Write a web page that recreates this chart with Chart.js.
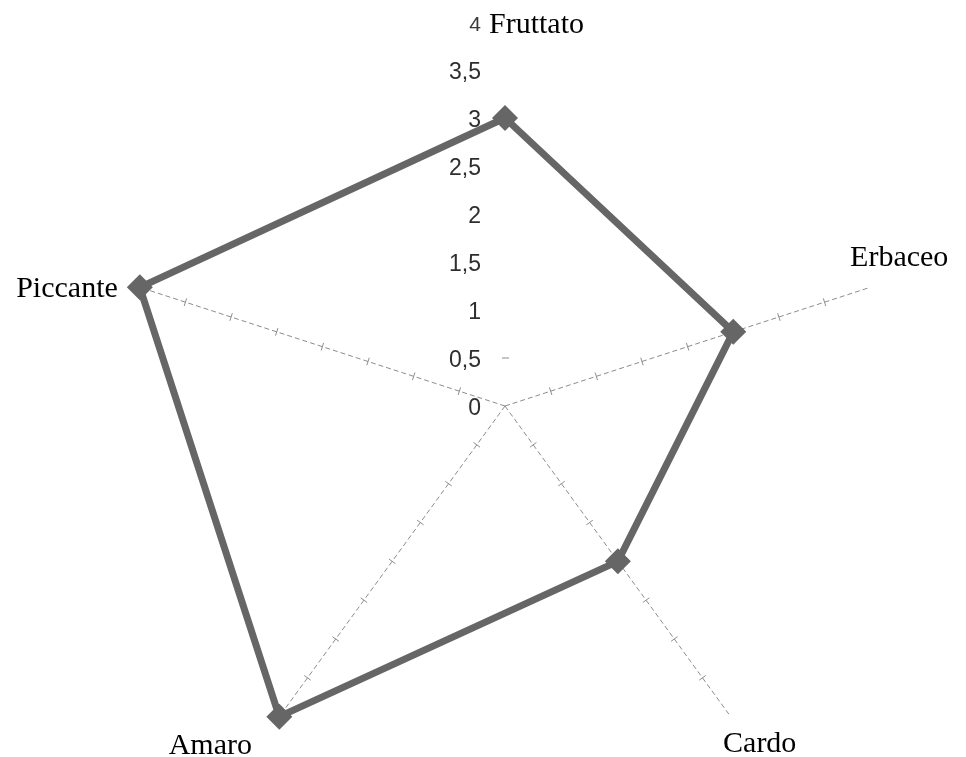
<!DOCTYPE html>
<html lang="it">
<head>
    <meta charset="UTF-8">
    <title>Profilo sensoriale</title>
    <style>
        html, body {
            margin: 0;
            padding: 0;
            background: #fff;
            overflow: hidden;
        }

        /* a bit taller than the window so the bottom axes fit at full radius */
        #wrap {
            width: 966px;
            height: 800px;
            position: relative;
        }
    </style>
</head>
<body>
    <div id="wrap"><canvas id="radar"></canvas></div>

    <script src="https://cdn.jsdelivr.net/npm/chart.js"></script>
    <script>
        // descriptors, clockwise from the top
        const descriptors = ['Fruttato', 'Erbaceo', 'Cardo', 'Amaro', 'Piccante'];
        const scores = [3, 2.5, 2, 4, 4];
        const tickValues = [0, 0.5, 1, 1.5, 2, 2.5, 3, 3.5, 4];
        const tickLabels = ['0', '0,5', '1', '1,5', '2', '2,5', '3', '3,5', '4'];

        // where each descriptor name sits, relative to the tip of its axis
        const labelPlacement = [
            { dx: -16, dy: 3, align: 'left' },
            { dx: 29, dy: -29, align: 'center' },
            { dx: 29, dy: 27, align: 'center' },
            { dx: -69, dy: 29, align: 'center' },
            { dx: -22, dy: 2, align: 'right' }
        ];

        const axisDecor = {
            id: 'axisDecor',
            beforeDatasetsDraw(chart) {
                const r = chart.scales.r;
                const ctx = chart.ctx;
                ctx.save();

                // little cross ticks every 0.5 on the visible axes
                ctx.strokeStyle = '#8c8c8c';
                ctx.lineWidth = 1;
                for (let i = 1; i < descriptors.length; i++) {
                    const tip = r.getPointPositionForValue(i, r.max);
                    const ang = Math.atan2(tip.y - r.yCenter, tip.x - r.xCenter);
                    const nx = -Math.sin(ang), ny = Math.cos(ang);
                    tickValues.forEach(v => {
                        if (v === 0 || v === r.max) return;
                        const p = r.getPointPositionForValue(i, v);
                        ctx.beginPath();
                        ctx.moveTo(p.x - nx * 4, p.y - ny * 4);
                        ctx.lineTo(p.x + nx * 4, p.y + ny * 4);
                        ctx.stroke();
                    });
                }
                // the one tick that shows on the top axis
                const t = r.getPointPositionForValue(0, 0.5);
                ctx.beginPath();
                ctx.moveTo(t.x - 3, t.y);
                ctx.lineTo(t.x + 4, t.y);
                ctx.stroke();

                // value labels, right aligned beside the top axis
                ctx.textAlign = 'right';
                ctx.textBaseline = 'middle';
                tickValues.forEach((v, k) => {
                    const top = v === r.max;
                    ctx.fillStyle = top ? '#3a3a3a' : '#2e2e2e';
                    ctx.font = (top ? '21px' : '23px') + ' "Liberation Sans", Arial, sans-serif';
                    const p = r.getPointPositionForValue(0, v);
                    ctx.fillText(tickLabels[k], p.x - 24, p.y + 3);
                });
                ctx.restore();
            },
            afterDraw(chart) {
                const r = chart.scales.r;
                const ctx = chart.ctx;
                ctx.save();
                ctx.fillStyle = '#000';
                ctx.font = '30px "Liberation Serif", "Times New Roman", serif';
                ctx.textBaseline = 'middle';
                descriptors.forEach((name, i) => {
                    const tip = r.getPointPositionForValue(i, r.max);
                    const pl = labelPlacement[i];
                    ctx.textAlign = pl.align;
                    ctx.fillText(name, tip.x + pl.dx, tip.y + pl.dy);
                });
                ctx.restore();
            }
        };

        new Chart(document.getElementById('radar'), {
            type: 'radar',
            data: {
                labels: descriptors,
                datasets: [{
                    data: scores,
                    fill: false,
                    borderColor: '#666',
                    borderWidth: 7,
                    borderJoinStyle: 'round',
                    pointStyle: 'rectRot',
                    pointRadius: 13,
                    pointBorderWidth: 0,
                    pointBackgroundColor: '#666',
                    tension: 0
                }]
            },
            options: {
                responsive: true,
                maintainAspectRatio: false,
                animation: false,
                layout: {
                    padding: { top: 22, left: 121, right: 77, bottom: 10 }
                },
                plugins: {
                    legend: { display: false },
                    tooltip: { enabled: false }
                },
                scales: {
                    r: {
                        min: 0,
                        max: 4,
                        ticks: { stepSize: 0.5, display: false },
                        grid: { display: false },
                        pointLabels: { display: false },
                        angleLines: {
                            display: true,
                            color: ctx => ctx.index === 0 ? 'rgba(0,0,0,0)' : '#8c8c8c',
                            lineWidth: 1,
                            borderDash: [5, 3]
                        }
                    }
                }
            },
            plugins: [axisDecor]
        });
    </script>
</body>
</html>
